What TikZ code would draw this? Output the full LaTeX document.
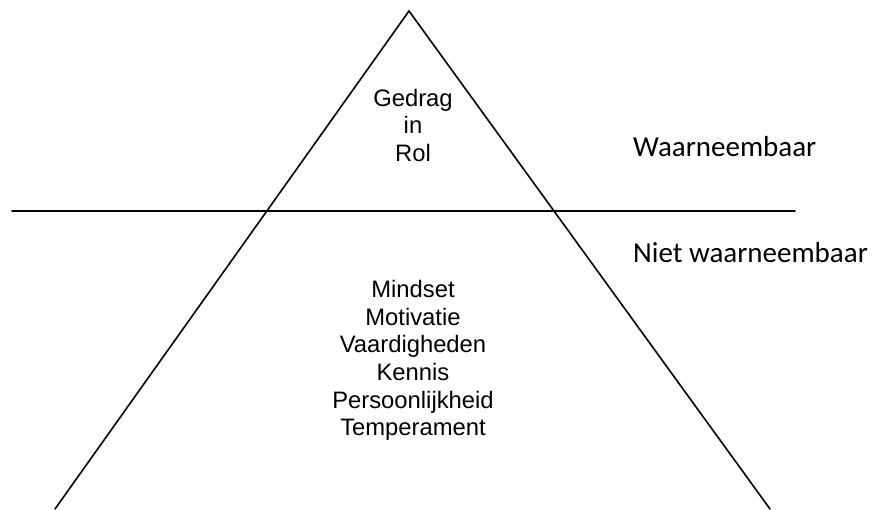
\documentclass[tikz,border=0pt]{standalone}
\usepackage{fontspec}
\setmainfont{Liberation Sans}
\newfontfamily\calfont{Carlito}
\begin{document}
\begin{tikzpicture}[x=1pt,y=-1pt,
  edge/.style={line width=1.6pt, line cap=round},
  inner/.style={align=center, font=\fontsize{23.8}{27.6}\selectfont, inner sep=0pt, anchor=base},
  side/.style={anchor=base west, font=\calfont\fontsize{29}{34}\selectfont, inner sep=0pt}]
\useasboundingbox (0,0) rectangle (875,509);
\coordinate (apex) at (409,11);
\coordinate (bl) at (55,509);
\coordinate (br) at (770,509);
\coordinate (hl) at (12,211);
\coordinate (hr) at (795,211);
\draw[edge] (bl) -- (apex) -- (br);
\draw[edge] (hl) -- (hr);
\node[inner] (top) at (413,161.2) {Gedrag\\in\\Rol};
\node[inner] (bottom) at (413,435.7) {Mindset\\Motivatie\\Vaardigheden\\Kennis\\Persoonlijkheid\\Temperament};
\node[side] (w) at (633,156.7) {Waarneembaar};
\node[side] (nw) at (633,262.7) {Niet waarneembaar};
\end{tikzpicture}
\end{document}
